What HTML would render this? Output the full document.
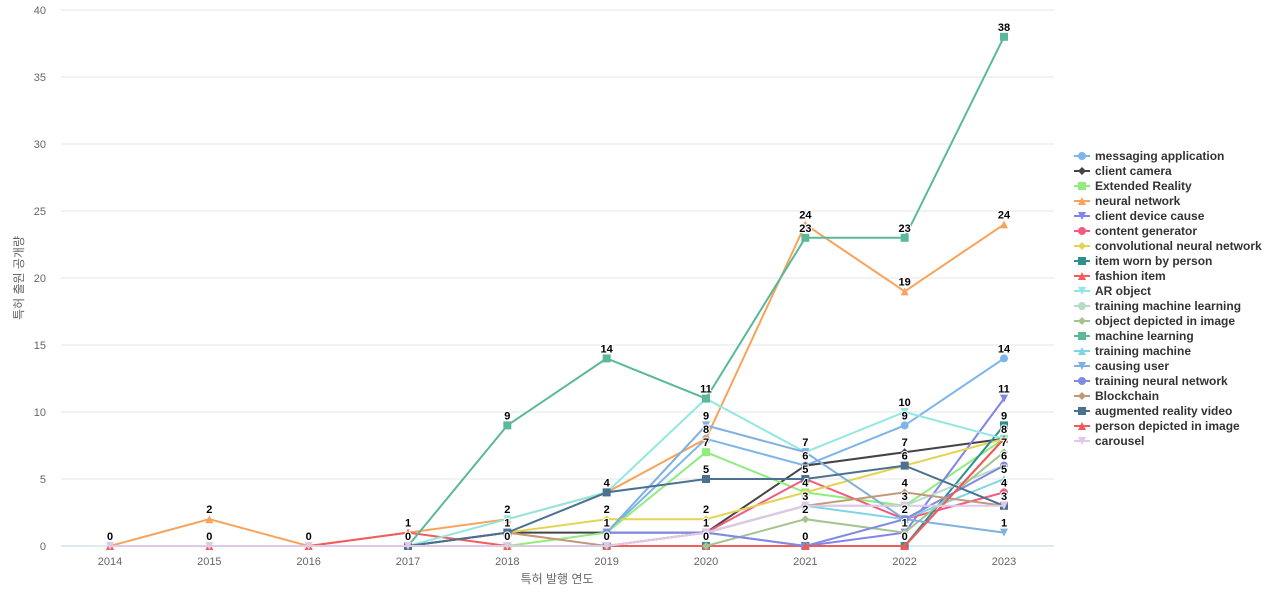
<!DOCTYPE html>
<html><head><meta charset="utf-8"><style>
body{margin:0;background:#fff;font-family:"Liberation Sans","Noto Sans CJK KR",sans-serif}
svg text{font-family:"Liberation Sans","Noto Sans CJK KR",sans-serif}
</style></head><body>
<svg id="c" width="1280" height="600"></svg>
<script>
const years=[2014,2015,2016,2017,2018,2019,2020,2021,2022,2023];
const yTicks=[0,5,10,15,20,25,30,35,40];
const N=null;
const names=["messaging application","client camera","Extended Reality","neural network","client device cause","content generator","convolutional neural network","item worn by person","fashion item","AR object","training machine learning","object depicted in image","machine learning","training machine","causing user","training neural network","Blockchain","augmented reality video","person depicted in image","carousel"];
const s0=[N,N,N,N,N,1,8,6,9,14];
const s1=[N,N,N,0,1,1,1,6,7,8];
const s2=[N,N,N,N,0,1,7,4,3,8];
const s3=[0,2,0,1,2,4,8,24,19,24];
const s4=[N,N,N,N,N,1,1,0,1,11];
const s5=[N,N,N,N,N,0,1,5,2,4];
const s6=[N,N,N,N,1,2,2,4,6,8];
const s7=[N,N,N,N,N,0,0,0,0,9];
const s8=[0,0,0,1,0,0,0,0,0,8];
const s9=[N,N,N,0,2,4,11,7,10,8];
const s10=[N,N,N,N,N,N,1,3,3,6];
const s11=[N,N,N,N,N,N,0,2,1,7];
const s12=[N,N,N,0,9,14,11,23,23,38];
const s13=[N,N,N,N,N,N,1,3,2,5];
const s14=[N,N,N,N,N,1,9,7,2,1];
const s15=[N,N,N,N,N,1,1,0,2,6];
const s16=[N,N,N,N,1,0,1,3,4,3];
const s17=[N,N,N,0,1,4,5,5,6,3];
const s18=[N,N,N,N,N,N,N,0,0,8];
const s19=[0,0,0,0,0,0,1,3,3,3];
const series=[s0,s1,s2,s3,s4,s5,s6,s7,s8,s9,s10,s11,s12,s13,s14,s15,s16,s17,s18,s19];
const colors=["#7cb5ec","#434348","#90ed7d","#f7a35c","#8085e9","#f15c80","#e4d354","#2b908f","#f45b5b","#91e8e1","#b5dcc8","#a3c48e","#5cb89a","#7fd4e8","#7fb0e0","#7f8be0","#c0997a","#4a7190","#f05a5a","#e0c8e8"];
const syms=["circle","diamond","square","triangle","tridown"];
const NS="http://www.w3.org/2000/svg";
const svg=document.getElementById("c");
const X0=110,XS=(1004-110)/9,Y0=546,YS=(546-10)/40;
const x=i=>X0+i*XS, y=v=>Y0-v*YS;
function mk(t,a,p){const e=document.createElementNS(NS,t);for(const k in a)e.setAttribute(k,a[k]);(p||svg).appendChild(e);return e;}
yTicks.forEach(v=>{
 const g=mk("line",{x1:61,x2:1054,y1:y(v),y2:y(v),stroke:v===0?"#c0d0e0":"#e6e6e6","stroke-width":1});
 
 
 const t=mk("text",{x:46,y:y(v)+4,"text-anchor":"end","font-size":11,fill:"#666"});t.textContent=v;
 
 
});
years.forEach((yr,i)=>{
 const t=mk("text",{x:x(i),y:565,"text-anchor":"middle","font-size":11,fill:"#666"});t.textContent=yr;
 
 
});
const xt=mk("text",{x:557,y:583,"text-anchor":"middle","font-size":12,fill:"#666"});xt.textContent="특허 발행 연도";


const yt=mk("text",{x:0,y:0,"text-anchor":"middle","font-size":12,fill:"#666",transform:"translate(23,278) rotate(-90)"});yt.textContent="특허 출원 공개량";


function marker(sym,cx,cy,col,p,r){
 r=r||4;let e;
 if(sym==="circle")e=mk("circle",{cx,cy,r,fill:col},p);
 else if(sym==="square")e=mk("rect",{x:cx-r,y:cy-r,width:2*r,height:2*r,fill:col},p);
 else if(sym==="diamond")e=mk("polygon",{points:`${cx},${cy-r} ${cx+r},${cy} ${cx},${cy+r} ${cx-r},${cy}`,fill:col},p);
 else if(sym==="triangle")e=mk("polygon",{points:`${cx},${cy-r} ${cx+r},${cy+r} ${cx-r},${cy+r}`,fill:col},p);
 else e=mk("polygon",{points:`${cx-r},${cy-r} ${cx+r},${cy-r} ${cx},${cy+r}`,fill:col},p);
 return e;
}
const labG=mk("g",{});
series.forEach((d,si)=>{
 const g=mk("g",{});
 
 
 let pts=[];d.forEach((v,i)=>{if(v!==null)pts.push([x(i),y(v),v]);});
 mk("polyline",{points:pts.map(p=>p[0]+","+p[1]).join(" "),fill:"none",stroke:colors[si],"stroke-width":2},g);
 pts.forEach(p=>{
  const m=marker(syms[si%5],p[0],p[1],colors[si],g);
  
  
  const t=mk("text",{x:p[0],y:p[1]-6,"text-anchor":"middle","font-size":11,"font-weight":"bold",fill:"#000",stroke:"#fff","stroke-width":2,"paint-order":"stroke"},labG);
  t.textContent=p[2];
  
  
 });
});
svg.appendChild(labG);
names.forEach((n,i)=>{
 const g=mk("g",{});
 
 
 const ly=156+i*15;
 mk("line",{x1:1074,x2:1090,y1:ly,y2:ly,stroke:colors[i],"stroke-width":2},g);
 marker(syms[i%5],1082,ly,colors[i],g,4);
 const t=mk("text",{x:1095,y:ly+4,"font-size":12,"font-weight":"bold",fill:"#333"},g);t.textContent=n;
});
</script>
</body></html>
